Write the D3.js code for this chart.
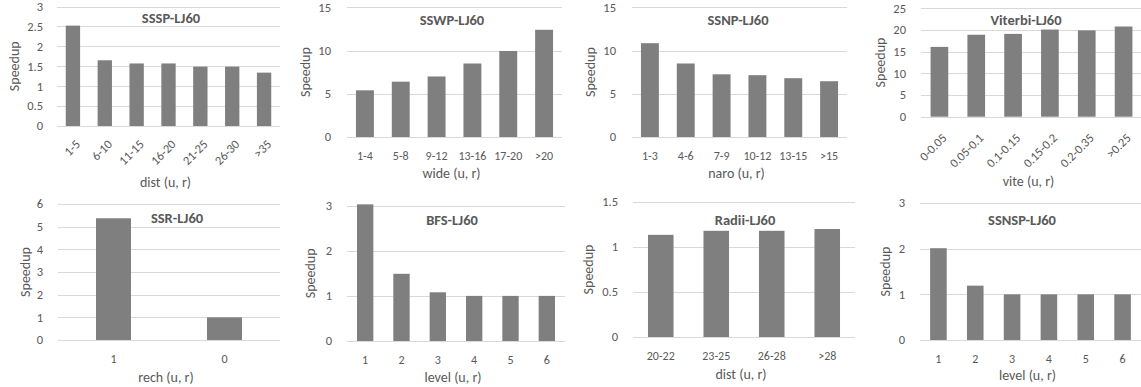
<!DOCTYPE html>
<html><head><meta charset="utf-8">
<script src="https://cdn.jsdelivr.net/npm/d3@7"></script>
<style>
body{margin:0;background:#fff;}
svg{display:block;font-family:Carlito,Calibri,Lato,sans-serif;}
</style></head>
<body><svg id="c" width="1141" height="387"></svg>
<script>
// ---- data ----
const titles = ["SSSP-LJ60","SSWP-LJ60","SSNP-LJ60","Viterbi-LJ60","SSR-LJ60","BFS-LJ60","Radii-LJ60","SSNSP-LJ60"];
const xTitles = ["dist (u, r)","wide (u, r)","naro (u, r)","vite (u, r)","rech (u, r)","level (u, r)","dist (u, r)","level (u, r)"];
const ssspCats = ["1-5","6-10","11-15","16-20","21-25","26-30",">35"];
const ssspVals = [2.52,1.65,1.57,1.57,1.49,1.49,1.34];
const sswpCats = ["1-4","5-8","9-12","13-16","17-20",">20"];
const sswpVals = [5.4,6.4,7.0,8.5,9.95,12.4];
const ssnpCats = ["1-3","4-6","7-9","10-12","13-15",">15"];
const ssnpVals = [10.85,8.5,7.25,7.15,6.8,6.45];
const viterbiCats = ["0-0.05","0.05-0.1","0.1-0.15","0.15-0.2","0.2-0.35",">0.25"];
const viterbiVals = [16.1,18.9,19.1,20.1,19.9,20.8];
const ssrCats = ["1","0"];
const ssrVals = [5.37,1.0];
const bfsCats = ["1","2","3","4","5","6"];
const bfsVals = [3.03,1.49,1.08,1.0,1.0,1.0];
const radiiCats = ["20-22","23-25","26-28",">28"];
const radiiVals = [1.135,1.18,1.18,1.2];
const ssnspCats = ["1","2","3","4","5","6"];
const ssnspVals = [2.01,1.19,1.0,1.0,1.0,1.0];
const yMax = [3,15,15,25,6,3,1.5,3];
const yStep = [0.5,5,5,5,1,1,0.5,1];

const cats = [ssspCats,sswpCats,ssnpCats,viterbiCats,ssrCats,bfsCats,radiiCats,ssnspCats];
const vals = [ssspVals,sswpVals,ssnpVals,viterbiVals,ssrVals,bfsVals,radiiVals,ssnspVals];

// ---- layout ----
const layout = [
 {x0:57, x1:280, yT:6.5, yB:126, rot:16,  bar:0.45, tx:171, ty:18,  yl:43, tickOff:14, at:56},
 {x0:347,x1:562, yT:7.3, yB:137, rot:0,   bar:0.50, tx:452, ty:20,  yl:42, tickOff:16, at:36},
 {x0:632,x1:847, yT:7.3, yB:137, rot:0,   bar:0.50, tx:738, ty:20,  yl:42, tickOff:16, at:36},
 {x0:921,x1:1142,yT:8.3, yB:116.7,rot:19, bar:0.48, tx:1026,ty:20,  yl:41, tickOff:15, at:64},
 {x0:58, x1:280, yT:204, yB:340, rot:0,   bar:0.315,tx:177, ty:218, yl:33, tickOff:15, at:37},
 {x0:347,x1:565, yT:205.7,yB:341,rot:0,   bar:0.45, tx:452, ty:220, yl:37, tickOff:15, at:36},
 {x0:633,x1:855, yT:202, yB:337, rot:0,   bar:0.46, tx:745, ty:220, yl:45, tickOff:15, at:37},
 {x0:920,x1:1141,yT:203, yB:340, rot:0,   bar:0.45, tx:1022,ty:220, yl:35, tickOff:15, at:35}
];

const svg = d3.select("#c");
const textCol = "#595959";

layout.forEach((L,i)=>{
  const g = svg.append("g");
  const x = d3.scaleBand().domain(cats[i]).range([L.x0,L.x1]).paddingInner(0).paddingOuter(0);
  const y = d3.scaleLinear().domain([0,yMax[i]]).range([L.yB,L.yT]);
  const ticks = d3.range(0,yMax[i]+yStep[i]/2,yStep[i]);
  // gridlines
  g.selectAll("line.grid").data(ticks).join("line")
    .attr("x1",L.x0).attr("x2",L.x1)
    .attr("y1",d=>Math.round(y(d))+0.5).attr("y2",d=>Math.round(y(d))+0.5)
    .attr("stroke","#d9d9d9").attr("stroke-width",1);
  // y tick labels
  g.selectAll("text.yt").data(ticks).join("text")
    .attr("x",L.x0-L.tickOff).attr("y",d=>y(d)).attr("dy","0.35em")
    .attr("text-anchor","end").attr("fill",textCol).attr("font-size",12.5)
    .text(d=>d3.format("~g")(d));
  // bars
  const bw = x.bandwidth()*L.bar;
  g.selectAll("rect").data(vals[i]).join("rect")
    .attr("x",(d,j)=>x(cats[i][j])+(x.bandwidth()-bw)/2)
    .attr("width",bw)
    .attr("y",d=>y(d)).attr("height",d=>y(0)-y(d))
    .attr("fill","#7f7f7f");
  // x tick labels
  if(L.rot){
    g.selectAll("text.xt").data(cats[i]).join("text")
      .attr("transform",d=>`translate(${x(d)+x.bandwidth()/2+5},${L.yB+L.rot}) rotate(-45)`)
      .attr("dy","0.35em").attr("text-anchor","end")
      .attr("fill",textCol).attr("font-size",12.5).text(d=>d);
  } else {
    g.selectAll("text.xt").data(cats[i]).join("text")
      .attr("x",d=>x(d)+x.bandwidth()/2).attr("y",L.yB+18.5).attr("dy","0.35em")
      .attr("text-anchor","middle").attr("fill",textCol).attr("font-size",12).text(d=>d);
  }
  // axis title
  g.append("text")
    .attr("x",(L.x0+L.x1)/2-3).attr("y",L.yB+L.at).attr("dy","0.35em")
    .attr("text-anchor","middle").attr("fill",textCol).attr("font-size",14).text(xTitles[i]);
  // y label
  g.append("text")
    .attr("transform",`translate(${L.x0-L.yl},${(L.yT+L.yB)/2}) rotate(-90)`)
    .attr("dy","0.35em").attr("text-anchor","middle").attr("fill",textCol).attr("font-size",14)
    .text("Speedup");
  // title
  g.append("text").attr("x",L.tx).attr("y",L.ty).attr("dy","0.35em")
    .attr("text-anchor","middle").attr("fill",textCol).attr("font-size",14.5).attr("font-weight","bold")
    .text(titles[i]);
});
</script></body></html>
